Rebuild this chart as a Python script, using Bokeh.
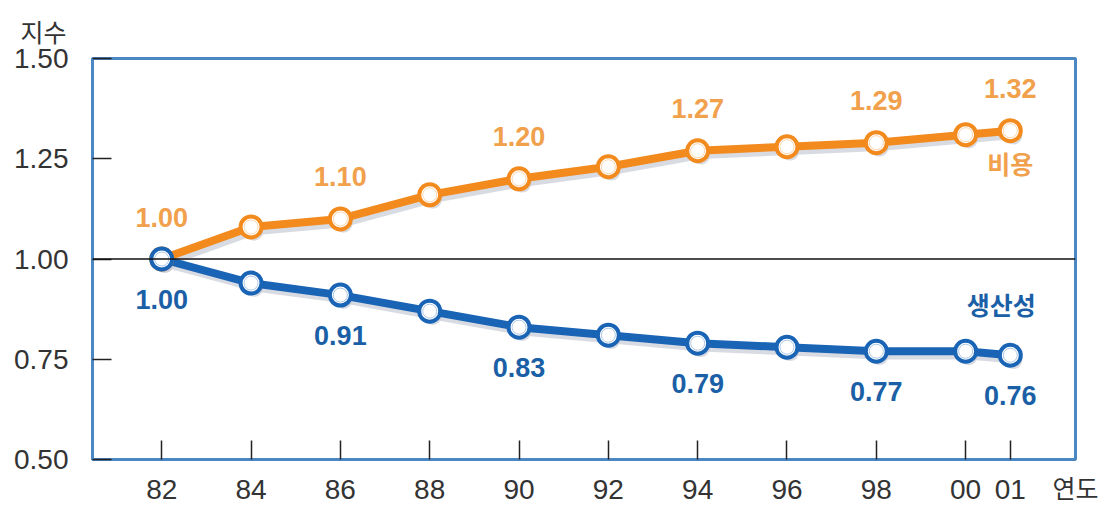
from bokeh.plotting import figure
from bokeh.models import ColumnDataSource, Span, Label, FixedTicker
from bokeh.core.properties import value
from bokeh.transform import dodge
from bokeh.embed import file_html
from bokeh.resources import INLINE

# ---- data ----
years = [1982, 1984, 1986, 1988, 1990, 1992, 1994, 1996, 1998, 2000, 2001]
year_labels = ["82", "84", "86", "88", "90", "92", "94", "96", "98", "00", "01"]
cost = [1.00, 1.08, 1.10, 1.16, 1.20, 1.23, 1.27, 1.28, 1.29, 1.31, 1.32]
productivity = [1.00, 0.94, 0.91, 0.87, 0.83, 0.81, 0.79, 0.78, 0.77, 0.77, 0.76]
labeled_idx = [0, 2, 4, 6, 8, 10]
y_ticks = [0.50, 0.75, 1.00, 1.25, 1.50]

ORANGE = "#F28A1E"
ORANGE_TXT = "#F1A04C"
BLUE = "#1A64B6"
BLUE_TXT = "#1B5FA6"
FRAME = "#4B87C3"
NUM_FONT = value("Liberation Sans Narrow, Liberation Sans, sans-serif")
AX_FONT = "Liberation Sans"

src = ColumnDataSource(dict(x=years, cost=cost, prod=productivity))
lab = ColumnDataSource(dict(
    x=[years[i] for i in labeled_idx],
    cost=[cost[i] for i in labeled_idx],
    prod=[productivity[i] for i in labeled_idx],
    cost_txt=["%.2f" % cost[i] for i in labeled_idx],
    prod_txt=["%.2f" % productivity[i] for i in labeled_idx],
))

p = figure(width=1112, height=507, output_backend="svg", toolbar_location=None,
           x_range=(1980.45, 2002.46), y_range=(0.5, 1.5),
           min_border_left=92, min_border_right=37, min_border_top=57, min_border_bottom=44)
p.background_fill_color = "white"
p.border_fill_color = "white"
p.outline_line_color = FRAME
p.outline_line_width = 3
p.xgrid.visible = False
p.ygrid.visible = False

# title used as the y caption
p.title.text = "지수"
p.title.align = "left"
p.title.offset = -72
p.title.standoff = 20
p.title.text_font = "Noto Sans CJK KR"
p.title.text_font_style = "normal"
p.title.text_font_size = "25px"
p.title.text_color = "#333333"

# axes
p.xaxis.ticker = FixedTicker(ticks=years)
p.xaxis.major_label_overrides = {y: l for y, l in zip(years, year_labels)}
p.yaxis.ticker = FixedTicker(ticks=y_ticks)
p.yaxis.major_label_overrides = {t: "%.2f" % t for t in y_ticks}
for ax in (p.xaxis, p.yaxis):
    ax.axis_line_color = FRAME
    ax.axis_line_width = 3
    ax.major_tick_in = 19
    ax.major_tick_out = 0
    ax.major_tick_line_color = "#222222"
    ax.major_tick_line_width = 1.5
    ax.minor_tick_line_color = None
    ax.major_label_text_font = AX_FONT
    ax.major_label_text_font_size = "28px"
    ax.major_label_text_color = "#333333"
p.xaxis.major_label_standoff = 20
p.yaxis.major_label_standoff = 24

# x caption as axis label at the end of the axis
p.xaxis.axis_label = "연도"
p.xaxis.axis_label_align = "end"
p.xaxis.axis_label_text_align = "center"
p.xaxis.axis_label_standoff = -33
p.xaxis.axis_label_text_font = "Noto Sans CJK KR"
p.xaxis.axis_label_text_font_style = "normal"
p.xaxis.axis_label_text_font_size = "25px"
p.xaxis.axis_label_text_color = "#333333"

# 1.00 reference line
p.add_layout(Span(location=1.0, dimension="width", line_color="#111111", line_width=1.5))

# shadows
for col in ("cost", "prod"):
    p.line(x=dodge("x", 0.07), y=dodge(col, -0.012), source=src,
           line_color="#C9CCD6", line_width=7, line_alpha=0.7)
    p.scatter(x=dodge("x", 0.07), y=dodge(col, -0.012), source=src, size=18,
              fill_color="#C9CCD6", line_color=None, fill_alpha=0.7)

# lines
p.line("x", "cost", source=src, line_color=ORANGE, line_width=8, line_join="round")
p.line("x", "prod", source=src, line_color=BLUE, line_width=8, line_join="round")

# markers
for col, c in (("cost", ORANGE), ("prod", BLUE)):
    p.scatter("x", col, source=src, size=21, fill_color="white", line_color=c, line_width=4)
    p.scatter("x", col, source=src, size=14, fill_color=None, line_color=c,
              line_width=1, line_alpha=0.35)

# value labels
p.text("x", "cost", text="cost_txt", source=lab, text_font=NUM_FONT, text_font_style="bold",
       text_font_size="27px", text_color=ORANGE_TXT, text_align="center",
       text_baseline="middle", y_offset=-42)
p.text("x", "prod", text="prod_txt", source=lab, text_font=NUM_FONT, text_font_style="bold",
       text_font_size="27px", text_color=BLUE_TXT, text_align="center",
       text_baseline="middle", y_offset=40)

# series names
p.add_layout(Label(x=2001, y=1.24, text="비용", text_font="Noto Sans CJK KR",
                   text_font_style="bold", text_font_size="25px", text_color=ORANGE_TXT,
                   text_align="center", text_baseline="middle"))
p.add_layout(Label(x=2000.8, y=0.889, text="생산성", text_font="Noto Sans CJK KR",
                   text_font_style="bold", text_font_size="25px", text_color=BLUE_TXT,
                   text_align="center", text_baseline="middle"))

open("out.html", "w").write(file_html(p, INLINE))
